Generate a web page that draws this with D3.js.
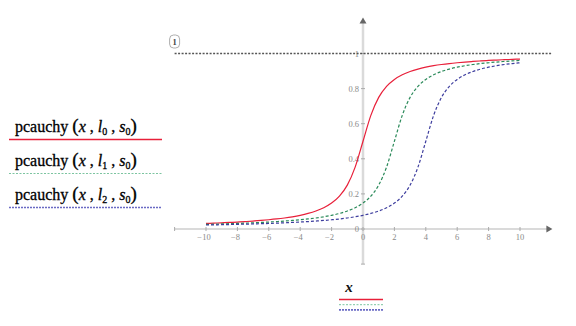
<!DOCTYPE html>
<html>
<head>
<meta charset="utf-8">
<script src="https://cdn.jsdelivr.net/npm/d3@7"></script>
<style>
  body { margin: 0; background: #fff; }
  svg text { font-family: "Liberation Serif", "DejaVu Serif", serif; }
</style>
</head>
<body>
<div id="chart"></div>
<script>
// values (x step 0.5 from -10 to 10)
const xValues = d3.range(-10, 10.001, 0.5);
const cauchyL0 = [0.0317, 0.0334, 0.0352, 0.0373, 0.0396, 0.0422, 0.0452, 0.0486, 0.0526, 0.0572,
  0.0628, 0.0696, 0.0780, 0.0886, 0.1024, 0.1211, 0.1476, 0.1872, 0.25, 0.3524,
  0.5, 0.6476, 0.75, 0.8128, 0.8524, 0.8789, 0.8976, 0.9114, 0.9220, 0.9304,
  0.9372, 0.9428, 0.9474, 0.9514, 0.9548, 0.9578, 0.9604, 0.9627, 0.9648, 0.9666, 0.9683];
const cauchyL1 = [0.0265, 0.0276, 0.0289, 0.0302, 0.0317, 0.0334, 0.0352, 0.0373, 0.0396, 0.0422,
  0.0452, 0.0486, 0.0526, 0.0572, 0.0628, 0.0696, 0.0780, 0.0886, 0.1024, 0.1211,
  0.1476, 0.1872, 0.25, 0.3524, 0.5, 0.6476, 0.75, 0.8128, 0.8524, 0.8789,
  0.8976, 0.9114, 0.9220, 0.9304, 0.9372, 0.9428, 0.9474, 0.9514, 0.9548, 0.9578, 0.9604];
const cauchyL2 = [0.0227, 0.0235, 0.0244, 0.0254, 0.0265, 0.0276, 0.0289, 0.0302, 0.0317, 0.0334,
  0.0352, 0.0373, 0.0396, 0.0422, 0.0452, 0.0486, 0.0526, 0.0572, 0.0628, 0.0696,
  0.0780, 0.0886, 0.1024, 0.1211, 0.1476, 0.1872, 0.25, 0.3524, 0.5, 0.6476,
  0.75, 0.8128, 0.8524, 0.8789, 0.8976, 0.9114, 0.9220, 0.9304, 0.9372, 0.9428, 0.9474];
const seriesSubs = ["0", "1", "2"];
const xTicks = [-10, -8, -6, -4, -2, 0, 2, 4, 6, 8, 10];
const yTicks = [0, 0.2, 0.4, 0.6, 0.8, 1];
const markerValue = 1;

const width = 576, height = 326;
const svg = d3.select("#chart").append("svg")
    .attr("width", width)
    .attr("height", height);

const x = d3.scaleLinear().domain([-10, 10]).range([206, 520]);
const y = d3.scaleLinear().domain([0, 1]).range([229, 53.5]);

const axisColor = "#dadada", tickText = "#8a8a8a";

// x axis line (-12 .. 12) with arrow
svg.append("line")
    .attr("x1", x(-12)).attr("x2", x(12) - 4)
    .attr("y1", y(0)).attr("y2", y(0))
    .attr("stroke", axisColor).attr("stroke-width", 2);
svg.append("path")
    .attr("d", `M${x(12) - 5},${y(0) - 3.5}L${x(12) + 1},${y(0)}L${x(12) - 5},${y(0) + 3.5}Z`)
    .attr("fill", "#666");

// y axis line (-0.2 .. 1.2) with arrow
svg.append("line")
    .attr("x1", x(0)).attr("x2", x(0))
    .attr("y1", y(-0.2)).attr("y2", y(1.2) + 4)
    .attr("stroke", axisColor).attr("stroke-width", 2.5);
svg.append("path")
    .attr("d", `M${x(0) - 3.5},${y(1.2) + 5}L${x(0)},${y(1.2) - 1}L${x(0) + 3.5},${y(1.2) + 5}Z`)
    .attr("fill", "#666");

// x ticks
const xTickG = svg.append("g");
xTickG.selectAll("line").data(xTicks.concat([-12])).enter().append("line")
    .attr("x1", d => x(d)).attr("x2", d => x(d))
    .attr("y1", y(0) - 2).attr("y2", y(0) + 2)
    .attr("stroke", "#aaa").attr("stroke-width", 1);
xTickG.selectAll("text").data(xTicks).enter().append("text")
    .attr("x", d => x(d) + (d < 0 ? -2 : 0))
    .attr("y", y(0) + 11)
    .attr("text-anchor", "middle")
    .attr("font-size", 8.5)
    .attr("fill", tickText)
    .text(d => d < 0 ? "\u2212" + Math.abs(d) : d);

// y ticks
const yTickG = svg.append("g");
yTickG.selectAll("line").data(yTicks.concat([-0.2])).enter().append("line")
    .attr("x1", x(0) - 2).attr("x2", x(0) + 2)
    .attr("y1", d => y(d)).attr("y2", d => y(d))
    .attr("stroke", "#aaa").attr("stroke-width", 1);
yTickG.selectAll("text").data(yTicks).enter().append("text")
    .attr("x", x(0) - 4)
    .attr("y", d => y(d) + 3)
    .attr("text-anchor", "end")
    .attr("font-size", 8.5)
    .attr("fill", tickText)
    .text(d => d);

// horizontal marker at 1
svg.append("line")
    .attr("x1", x(-12)).attr("x2", x(12))
    .attr("y1", y(markerValue)).attr("y2", y(markerValue))
    .attr("stroke", "#555").attr("stroke-width", 1.6)
    .attr("stroke-dasharray", "2,1.5");
svg.append("rect")
    .attr("x", x(-12) - 5).attr("y", 35)
    .attr("width", 10).attr("height", 13)
    .attr("rx", 4)
    .attr("fill", "#fff").attr("stroke", "#999").attr("stroke-width", 0.8);
svg.append("text")
    .attr("x", x(-12)).attr("y", 45)
    .attr("text-anchor", "middle")
    .attr("font-size", 8.5)
    .attr("font-weight", "bold")
    .attr("fill", "#444")
    .text(markerValue);

// curves
const series = [
    { values: cauchyL0, color: "#e8203a", dash: null, width: 1.2 },
    { values: cauchyL1, color: "#2b8a5a", dash: "3,2", width: 1.2 },
    { values: cauchyL2, color: "#3d3d9e", dash: "3,2", width: 1.2 }
];
const line = d3.line()
    .x((d, i) => x(xValues[i]))
    .y(d => y(d))
    .curve(d3.curveMonotoneX);
svg.append("g").selectAll("path").data(series).enter().append("path")
    .attr("d", d => line(d.values))
    .attr("fill", "none")
    .attr("stroke", d => d.color)
    .attr("stroke-width", d => d.width)
    .attr("stroke-dasharray", d => d.dash);

// left legend
const legendColors = [
    { color: "#e8203a", dash: null, width: 1.4 },
    { color: "#7cc4a0", dash: "2,1.5", width: 1 },
    { color: "#6a6ac4", dash: "2,1", width: 1.6 }
];
seriesSubs.forEach((sub, i) => {
    const base = 132 + i * 34;
    const t = svg.append("text")
        .attr("x", 15).attr("y", base)
        .attr("font-size", 16)
        .attr("fill", "#000")
        .attr("stroke", "#000").attr("stroke-width", 0.3);
    t.append("tspan").text("pcauchy ");
    t.append("tspan").attr("font-size", 19).text("(");
    t.append("tspan").attr("font-style", "italic").text("x");
    t.append("tspan").text(" , ");
    t.append("tspan").attr("font-style", "italic").text("l");
    t.append("tspan").attr("font-size", 10).attr("dy", 3).text(sub);
    t.append("tspan").attr("dy", -3).text(" , ");
    t.append("tspan").attr("font-style", "italic").text("s");
    t.append("tspan").attr("font-size", 10).attr("dy", 3).text("0");
    t.append("tspan").attr("font-size", 19).attr("dy", -3).text(")");

    svg.append("line")
        .attr("x1", 9).attr("x2", 162)
        .attr("y1", base + 7.5).attr("y2", base + 7.5)
        .attr("stroke", legendColors[i].color)
        .attr("stroke-width", legendColors[i].width)
        .attr("stroke-dasharray", legendColors[i].dash);
});

// bottom x legend
svg.append("text")
    .attr("x", 349).attr("y", 292)
    .attr("text-anchor", "middle")
    .attr("font-size", 15)
    .attr("font-style", "italic")
    .attr("font-weight", "bold")
    .attr("fill", "#111")
    .text("x");
legendColors.forEach((d, i) => {
    svg.append("line")
        .attr("x1", 339).attr("x2", 383)
        .attr("y1", 299.5 + i * 5.2).attr("y2", 299.5 + i * 5.2)
        .attr("stroke", d.color)
        .attr("stroke-width", d.width)
        .attr("stroke-dasharray", d.dash);
});
</script>
</body>
</html>
